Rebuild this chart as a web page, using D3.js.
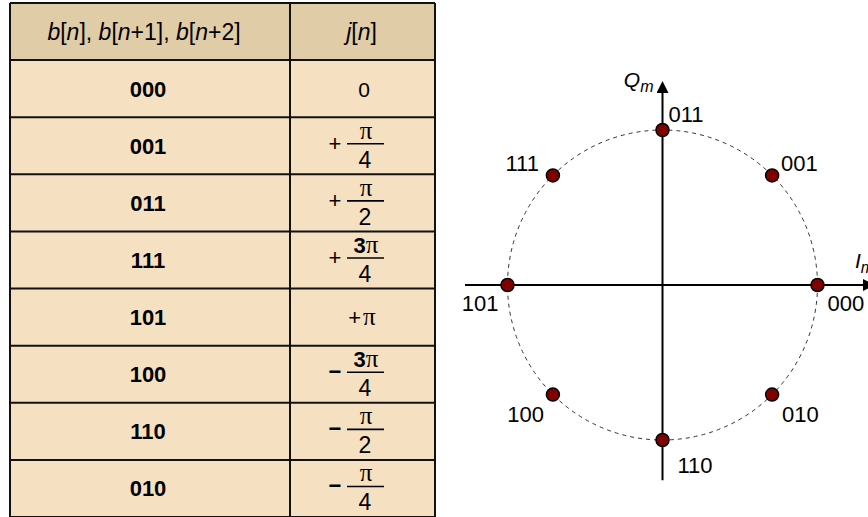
<!DOCTYPE html>
<html>
<head>
<meta charset="utf-8">
<script src="https://cdn.jsdelivr.net/npm/d3@7"></script>
<style>
  body { margin: 0; background: #ffffff; }
  svg { display: block; }
  text { font-family: "Liberation Sans", Arial, sans-serif; fill: #000; }
  .pi { font-family: "Liberation Serif", "Times New Roman", serif; }
</style>
</head>
<body>
<script>
// Table data
var bits      = ["000", "001", "011", "111", "101", "100", "110", "010"];
var phaseSign = ["",    "+",   "+",   "+",   "+",   "\u2212", "\u2212", "\u2212"];
var phaseMult = ["0",   "",    "",    "3",   "",    "3",   "",    ""];   // coefficient in front of pi
var phasePi   = [false, true,  true,  true,  true,  true,  true,  true];
var phaseDen  = [null,  "4",   "2",   "4",   null,  "4",   "2",   "4"];

// Constellation: phase of each symbol, in units of pi/4
var symbols   = ["000", "001", "011", "111", "101", "100", "110", "010"];
var phaseK    = [0, 1, 2, 3, 4, -3, -2, -1];

var svgWidth = 868;
var svgHeight = 517;

var svg = d3.select("body")
  .append("svg")
  .attr("width", svgWidth)
  .attr("height", svgHeight);

// ---------------- Table ----------------
var rowScale = d3.scaleBand()
  .domain(["header"].concat(bits))
  .range([3, 517]);

var col1 = [10, 290];
var col2 = [290, 435];

var table = svg.append("g");

table.append("rect")
  .attr("x", col1[0]).attr("y", rowScale("header"))
  .attr("width", col2[1] - col1[0]).attr("height", rowScale.bandwidth())
  .attr("fill", "#e1cca8");

table.selectAll("rect.body")
  .data(bits)
  .enter()
  .append("rect")
  .attr("class", "body")
  .attr("x", col1[0])
  .attr("y", d => rowScale(d))
  .attr("width", col2[1] - col1[0])
  .attr("height", rowScale.bandwidth())
  .attr("fill", "#f5e1c2");

// grid lines
var hLines = ["header"].concat(bits).map(d => rowScale(d)).concat([rowScale.range()[1]]);
table.selectAll("line.h")
  .data(hLines)
  .enter()
  .append("line")
  .attr("x1", col1[0]).attr("x2", col2[1])
  .attr("y1", d => d).attr("y2", d => d)
  .attr("stroke", "#111").attr("stroke-width", 2);

table.selectAll("line.v")
  .data([col1[0], col1[1], col2[1]])
  .enter()
  .append("line")
  .attr("x1", d => d).attr("x2", d => d)
  .attr("y1", 3).attr("y2", 517)
  .attr("stroke", "#111").attr("stroke-width", 2);

// header text
var hy = rowScale("header") + rowScale.bandwidth() / 2 + 8;
var h1 = table.append("text")
  .attr("x", (col1[0] + col1[1]) / 2 - 6)
  .attr("y", hy)
  .attr("text-anchor", "middle")
  .style("font-size", "23px");
[["b", true], ["[", false], ["n", true], ["], ", false], ["b", true], ["[", false], ["n", true], ["+1], ", false],
 ["b", true], ["[", false], ["n", true], ["+2]", false]].forEach(function(p) {
  h1.append("tspan").text(p[0]).style("font-style", p[1] ? "italic" : "normal");
});

var h2 = table.append("text")
  .attr("x", (col2[0] + col2[1]) / 2 - 1)
  .attr("y", hy)
  .attr("text-anchor", "middle")
  .style("font-size", "23px");
[["j", true], ["[", false], ["n", true], ["]", false]].forEach(function(p) {
  h2.append("tspan").text(p[0]).style("font-style", p[1] ? "italic" : "normal");
});

// first column: bit triplets
table.selectAll("text.bits")
  .data(bits)
  .enter()
  .append("text")
  .attr("class", "bits")
  .attr("x", (col1[0] + col1[1]) / 2 - 2)
  .attr("y", d => rowScale(d) + rowScale.bandwidth() / 2 + 8)
  .attr("text-anchor", "middle")
  .style("font-size", "22px")
  .style("font-weight", "bold")
  .text(d => d);

// second column: phases
var phaseRows = bits.map(function(b, i) {
  return { bit: b, sign: phaseSign[i], mult: phaseMult[i], pi: phasePi[i], den: phaseDen[i] };
});

var fracX = 365;
phaseRows.forEach(function(r) {
  var cy = rowScale(r.bit) + rowScale.bandwidth() / 2;
  var g = table.append("g");
  if (r.den) {
    var ly = cy - 2;
    g.append("line")
      .attr("x1", fracX - 18).attr("x2", fracX + 19)
      .attr("y1", ly).attr("y2", ly)
      .attr("stroke", "#000").attr("stroke-width", 1.6);
    var num = g.append("text")
      .attr("x", fracX + 1)
      .attr("y", ly - 5)
      .attr("text-anchor", "middle")
      .style("font-size", "22px");
    if (r.mult) num.append("tspan").style("font-weight", "bold").text(r.mult);
    num.append("tspan").attr("class", "pi").style("font-size", "25px").text("\u03c0");
    g.append("text")
      .attr("x", fracX)
      .attr("y", ly + 24)
      .attr("text-anchor", "middle")
      .style("font-size", "23px")
      .text(r.den);
    g.append("text")
      .attr("x", fracX - 30)
      .attr("y", ly + 7)
      .attr("text-anchor", "middle")
      .style("font-size", "22px")
      .style("font-weight", r.sign === "+" ? "normal" : "bold")
      .text(r.sign);
  } else if (r.pi) {
    var t = g.append("text")
      .attr("x", fracX - 3)
      .attr("y", cy + 8)
      .attr("text-anchor", "middle")
      .style("font-size", "22px");
    t.append("tspan").text(r.sign);
    t.append("tspan").attr("class", "pi").attr("dx", 2).style("font-size", "25px").text("\u03c0");
  } else {
    g.append("text")
      .attr("x", fracX - 1)
      .attr("y", cy + 8)
      .attr("text-anchor", "middle")
      .style("font-size", "21px")
      .text(r.mult);
  }
});

// ---------------- Constellation ----------------
var cx = 662.5, cy0 = 285, R = 155;

var xScale = d3.scaleLinear().domain([-1, 1]).range([cx - R, cx + R]);
var yScale = d3.scaleLinear().domain([-1, 1]).range([cy0 + R, cy0 - R]);

var defs = svg.append("defs");
defs.append("marker")
  .attr("id", "arrow")
  .attr("viewBox", "0 0 12 12")
  .attr("refX", 1).attr("refY", 6)
  .attr("markerWidth", 12).attr("markerHeight", 12)
  .attr("markerUnits", "userSpaceOnUse")
  .attr("orient", "auto")
  .append("path")
  .attr("d", "M0,0 L12,6 L0,12 Z")
  .attr("fill", "#000");

var plot = svg.append("g");

// dashed unit circle
plot.append("circle")
  .attr("cx", xScale(0)).attr("cy", yScale(0))
  .attr("r", xScale(1) - xScale(0))
  .attr("fill", "none")
  .attr("stroke", "#333")
  .attr("stroke-width", 1)
  .attr("stroke-dasharray", "4,4");

// axes
plot.append("line")
  .attr("x1", xScale(-1.274)).attr("x2", xScale(1.3))
  .attr("y1", yScale(0)).attr("y2", yScale(0))
  .attr("stroke", "#000").attr("stroke-width", 2)
  .attr("marker-end", "url(#arrow)");

plot.append("line")
  .attr("x1", xScale(0)).attr("x2", xScale(0))
  .attr("y1", yScale(-1.26)).attr("y2", yScale(1.245))
  .attr("stroke", "#000").attr("stroke-width", 2)
  .attr("marker-end", "url(#arrow)");

// axis labels
var qLab = plot.append("text")
  .attr("x", xScale(0) - 9)
  .attr("y", yScale(1.31) + 5)
  .attr("text-anchor", "end")
  .style("font-size", "21px")
  .style("font-style", "italic");
qLab.append("tspan").text("Q");
qLab.append("tspan").attr("dy", 5).style("font-size", "16px").text("m");

var iLab = plot.append("text")
  .attr("x", 855)
  .attr("y", yScale(0) - 17)
  .style("font-size", "21px")
  .style("font-style", "italic");
iLab.append("tspan").text("I");
iLab.append("tspan").attr("dy", 5).style("font-size", "16px").text("m");

var points = symbols.map(function(s, i) {
  var a = phaseK[i] * Math.PI / 4;
  return { label: s, c: Math.cos(a), s: Math.sin(a) };
});

plot.selectAll("circle.pt")
  .data(points)
  .enter()
  .append("circle")
  .attr("class", "pt")
  .attr("cx", d => xScale(d.c))
  .attr("cy", d => yScale(d.s))
  .attr("r", 6.5)
  .attr("fill", "#800000")
  .attr("stroke", "#000")
  .attr("stroke-width", 1.5);

plot.selectAll("text.pt")
  .data(points)
  .enter()
  .append("text")
  .attr("class", "pt")
  .attr("text-anchor", d => d.c < -0.1 ? "end" : "start")
  .attr("x", function(d) {
    var px = xScale(d.c);
    if (d.c < -0.1) return px - (d.s > 0.1 ? 14 : 9);
    if (d.c > 0.1) return px + (d.s > 0.1 ? 9 : 10);
    return px + (d.s > 0 ? 6 : 15);
  })
  .attr("y", function(d) {
    var py = yScale(d.s);
    if (d.s > 0.9) return py - 8;
    if (d.s > 0.1) return py - 4;
    if (d.s > -0.1) return py + 26;
    if (d.s > -0.9) return py + 27;
    return py + 33;
  })
  .style("font-size", "22px")
  .text(d => d.label);
</script>
</body>
</html>
